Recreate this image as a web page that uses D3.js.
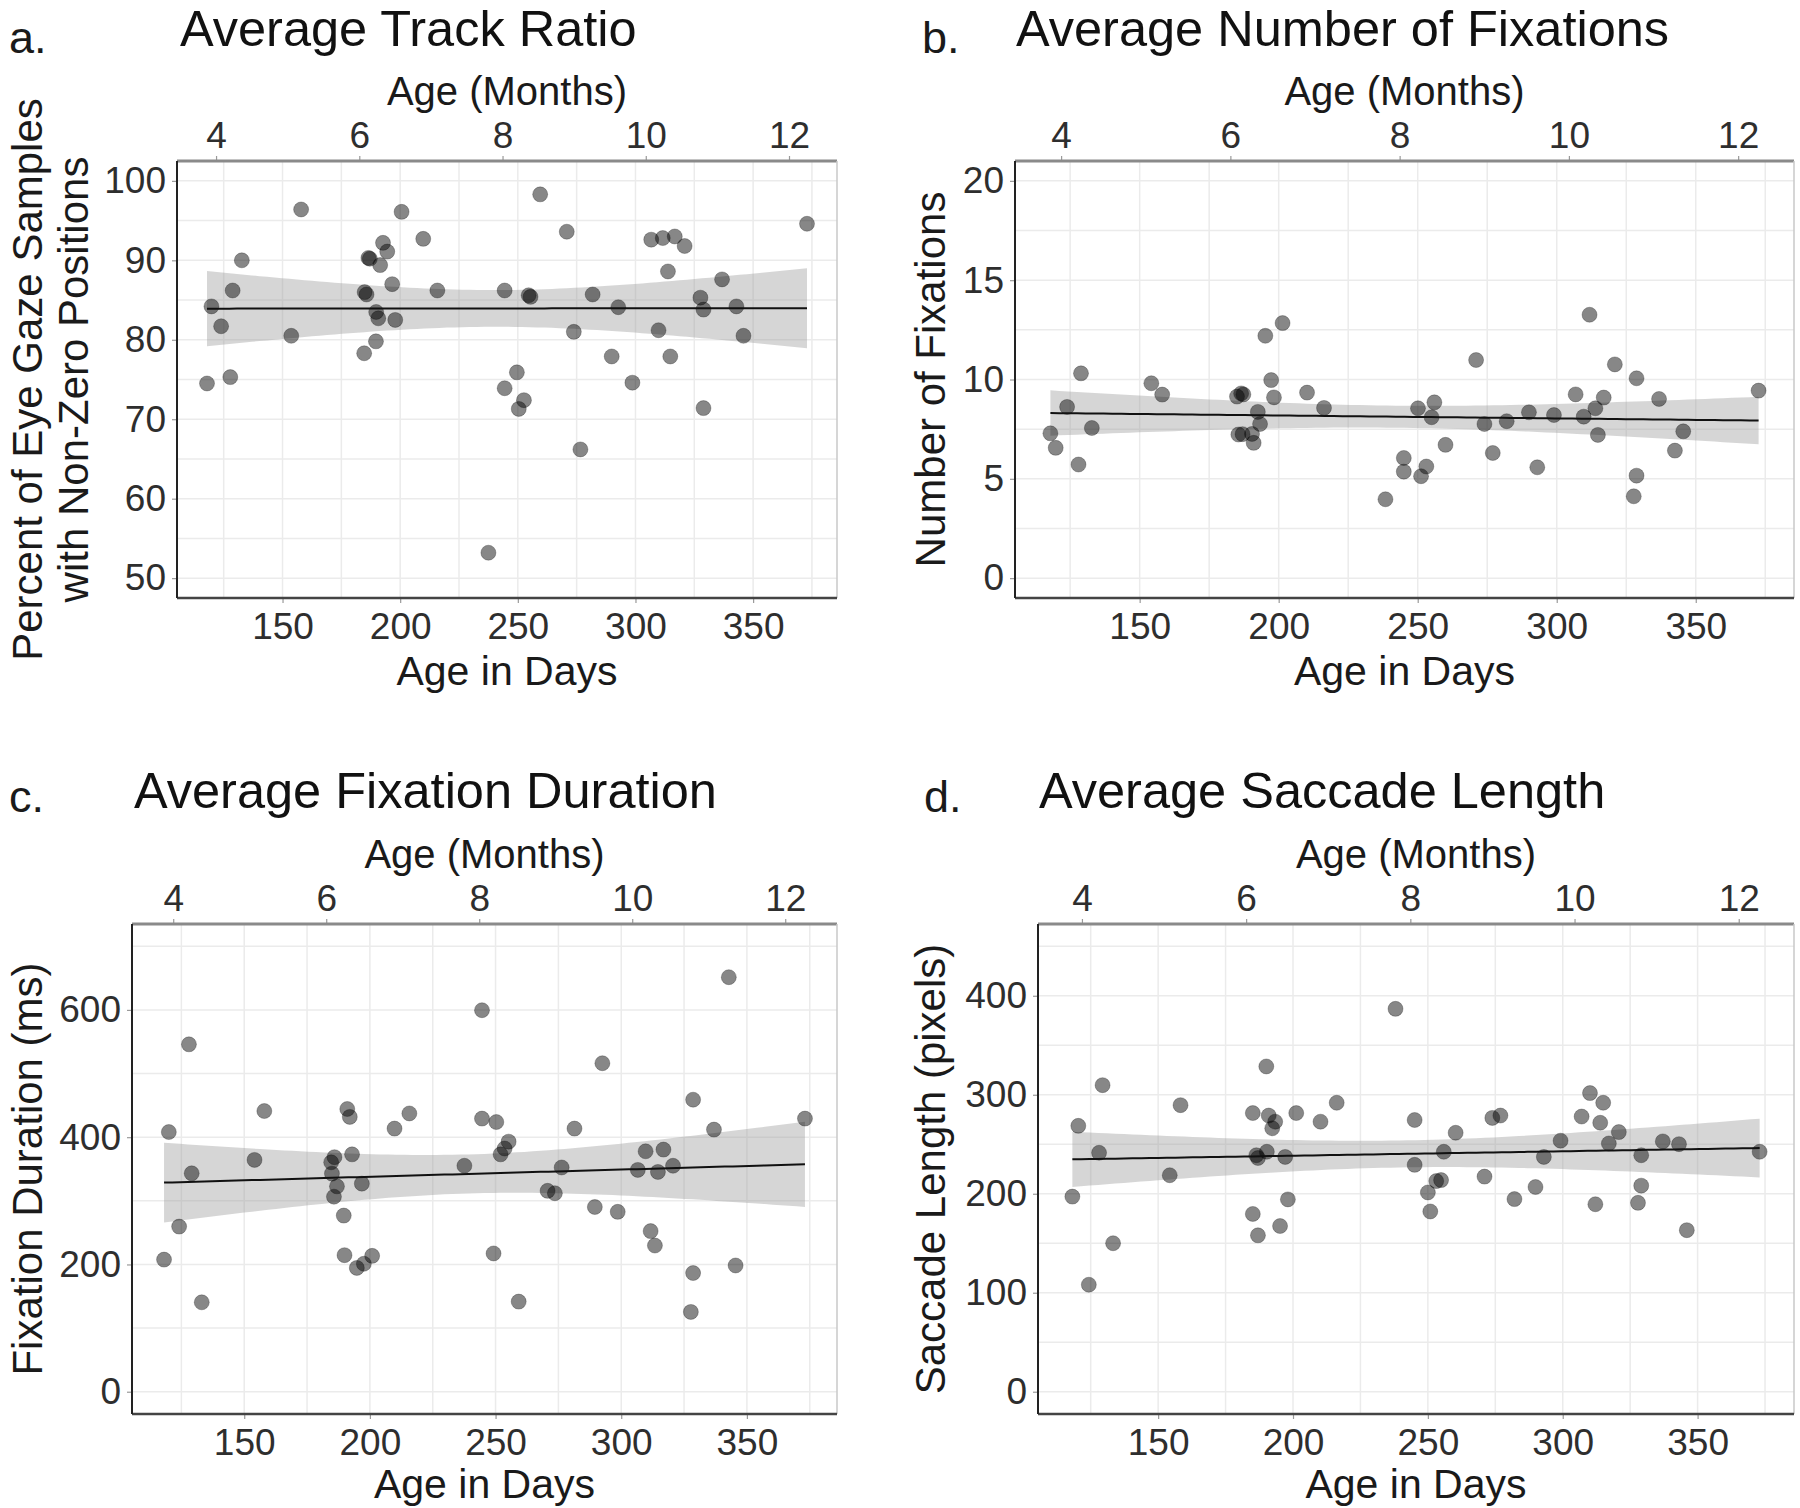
<!DOCTYPE html>
<html><head><meta charset="utf-8">
<script src="https://cdn.jsdelivr.net/npm/d3@7"></script>
<style>
body{margin:0;background:#fff;}
svg{display:block;}
text{font-family:"Liberation Sans",Arial,Helvetica,sans-serif;}
</style>
</head><body>
<svg id="chart" width="1800" height="1508"></svg>
<script>
// ---------- tick labels ----------
const dayTicks = [150, 200, 250, 300, 350];
const dayMinorTicks = [125, 175, 225, 275, 325, 375];
const monthTicks = [4, 6, 8, 10, 12];
const daysPerMonth = 30.4375;

const yTicksA = [50, 60, 70, 80, 90, 100];
const yMinorA = [55, 65, 75, 85, 95];
const yTicksB = [0, 5, 10, 15, 20];
const yMinorB = [2.5, 7.5, 12.5, 17.5];
const yTicksC = [0, 200, 400, 600];
const yMinorC = [100, 300, 500, 700];
const yTicksD = [0, 100, 200, 300, 400];
const yMinorD = [50, 150, 250, 350, 450];

// ---------- a. Average Track Ratio ----------
const ageA = [117.9,119.8,123.9,127.8,128.8,132.7,153.7,157.9,184.7,184.9,185.7,186.5,187.1,189.7,189.8,190.7,191.5,192.7,194.5,196.6,197.9,200.6,209.8,215.8,237.5,244.4,244.4,249.6,250.4,252.6,254.6,255.4,259.5,270.8,273.8,276.6,281.8,289.9,292.7,298.7,306.7,309.8,311.6,313.8,314.8,316.7,320.9,327.6,328.9,328.9,336.8,342.9,345.9,372.9];
const valA = [74.5,84.2,81.7,75.3,86.2,90.0,80.5,96.4,78.3,86.0,85.7,90.3,90.2,79.8,83.5,82.7,89.4,92.2,91.1,87.0,82.5,96.1,92.7,86.2,53.2,86.2,73.9,75.9,71.3,72.4,85.6,85.4,98.3,93.6,81.0,66.2,85.7,77.9,84.1,74.6,92.6,81.2,92.8,88.6,77.9,93.0,91.8,85.3,71.4,83.8,87.6,84.2,80.5,94.6];

// ---------- b. Average Number of Fixations ----------
const ageB = [117.9,119.8,123.9,128.0,128.9,132.8,154.2,158.1,185.0,186.5,187.3,185.5,187.0,190.4,191.0,192.5,193.3,195.2,197.3,198.3,201.4,210.2,216.3,238.4,245.0,245.0,250.1,251.2,253.1,255.0,256.0,260.0,271.0,274.0,277.0,282.0,290.0,293.0,299.0,306.8,309.7,311.8,313.9,314.8,316.9,320.9,327.7,328.7,328.7,336.8,342.5,345.5,372.6];
const valB = [7.29,6.56,8.62,5.72,10.31,7.56,9.81,9.24,9.14,9.30,9.25,7.23,7.25,7.26,6.81,8.37,7.76,12.20,9.97,9.10,12.84,9.34,8.57,3.97,6.05,5.36,8.55,5.13,5.62,8.10,8.85,6.71,10.98,7.76,6.30,7.90,8.35,5.58,8.21,9.25,8.13,13.26,8.55,7.21,9.09,10.76,4.12,5.16,10.06,9.02,6.42,7.39,9.44];

// ---------- c. Average Fixation Duration ----------
const ageC = [118.1,120.0,124.1,128.0,129.1,133.1,154.1,158.0,184.6,184.9,185.9,186.9,185.7,189.6,189.9,191.0,192.0,192.9,194.8,196.8,197.6,200.9,209.8,215.7,237.6,244.6,244.6,249.2,250.3,252.0,253.6,255.2,259.2,270.7,273.6,276.3,281.4,289.5,292.5,298.6,306.6,309.7,311.7,313.4,314.6,316.8,320.6,327.7,328.6,328.6,336.9,342.8,345.5,373.1];
const valC = [207.6,408.1,259.5,545.9,343.2,140.5,364.3,441.1,360.5,342.7,368.6,322.7,306.5,276.8,214.6,444.3,431.9,373.0,194.6,327.0,201.1,213.5,413.5,437.3,355.1,599.5,429.2,217.3,423.8,373.0,382.2,393.0,141.6,315.7,311.9,352.4,413.5,290.3,516.2,282.7,348.6,377.8,252.4,229.7,345.4,380.5,355.1,125.4,458.9,186.5,411.9,651.4,198.4,429.2];

// ---------- d. Average Saccade Length ----------
const ageD = [118.2,120.4,124.3,128.1,129.4,133.3,154.3,158.3,185.1,185.1,187.0,186.4,187.0,190.1,190.3,191.0,192.3,193.4,195.2,197.1,198.1,201.2,210.2,216.2,238.0,245.1,245.1,250.0,250.9,253.1,254.9,255.9,260.3,271.0,273.9,276.9,282.1,289.9,293.0,299.2,307.0,310.1,312.1,313.9,315.0,317.1,320.8,327.9,329.1,329.1,337.1,343.1,346.0,373.0];
const valD = [197.1,268.6,108.1,241.4,309.7,150.0,218.7,289.5,179.6,281.5,158.0,238.9,236.1,328.6,242.4,279.0,266.1,272.8,167.4,237.2,194.3,281.5,272.8,291.9,386.8,274.5,229.2,201.3,182.1,212.8,213.8,242.4,261.6,217.3,276.6,279.0,194.6,206.8,237.2,253.6,278.0,301.7,189.4,271.7,291.9,250.8,262.3,190.8,208.2,238.9,252.9,250.1,163.2,242.4];

// ---------- panel texts & layout ----------
const panels = [
  {tag:"a.", title:"Average Track Ratio", ages:ageA, vals:valA,
   yTitle:["Percent of Eye Gaze Samples","with Non-Zero Positions"],
   yTicks:yTicksA, yMinor:yMinorA, yLim:[50,100],
   box:{l:177,r:837,t:161,b:598}, tagX:9, titleX:180, titleY:46, tagY:53, yTitleX:[27,73]},
  {tag:"b.", title:"Average Number of Fixations", ages:ageB, vals:valB,
   yTitle:["Number of Fixations"],
   yTicks:yTicksB, yMinor:yMinorB, yLim:[0,20],
   box:{l:1015,r:1794,t:161,b:598}, tagX:922, titleX:1016, titleY:46, tagY:53, yTitleX:[930]},
  {tag:"c.", title:"Average Fixation Duration", ages:ageC, vals:valC,
   yTitle:["Fixation Duration (ms)"],
   yTicks:yTicksC, yMinor:yMinorC, yLim:[0,700],
   box:{l:132,r:837,t:924,b:1414}, tagX:9, titleX:134, titleY:808, tagY:812, yTitleX:[27]},
  {tag:"d.", title:"Average Saccade Length", ages:ageD, vals:valD,
   yTitle:["Saccade Length (pixels)"],
   yTicks:yTicksD, yMinor:yMinorD, yLim:[0,450],
   box:{l:1038,r:1794,t:924,b:1414}, tagX:924, titleX:1039, titleY:808, tagY:812, yTitleX:[930]}
];

const svg = d3.select("#chart");
svg.append("rect").attr("width",1800).attr("height",1508).attr("fill","#fff");

function linFit(xs, ys){
  const n = xs.length;
  const xb = d3.mean(xs), yb = d3.mean(ys);
  let sxx=0, sxy=0;
  for(let i=0;i<n;i++){ sxx+=(xs[i]-xb)**2; sxy+=(xs[i]-xb)*(ys[i]-yb); }
  const b = sxy/sxx, a = yb - b*xb;
  let ss=0;
  for(let i=0;i<n;i++){ ss += (ys[i]-(a+b*xs[i]))**2; }
  const s = Math.sqrt(ss/(n-2));
  const t = 2.007;
  return x => { const f=a+b*x; const se=s*Math.sqrt(1/n+(x-xb)**2/sxx); return {x, y:f, lo:f-t*se, hi:f+t*se}; };
}

function expand(lo, hi){ const p=(hi-lo)*0.05; return [lo-p, hi+p]; }

panels.forEach(p => {
  const B = p.box;
  const xExt = d3.extent(p.ages);
  const x = d3.scaleLinear().domain(expand(xExt[0], xExt[1])).range([B.l, B.r]);
  const y = d3.scaleLinear().domain(expand(p.yLim[0], p.yLim[1])).range([B.b, B.t]);
  const g = svg.append("g");

  // grid
  const grid = g.append("g").attr("stroke","#ebebeb").attr("stroke-width",1.5);
  dayTicks.concat(dayMinorTicks).forEach(d => {
    grid.append("line").attr("x1",x(d)).attr("x2",x(d)).attr("y1",B.t).attr("y2",B.b);
  });
  p.yTicks.concat(p.yMinor).forEach(v => {
    grid.append("line").attr("x1",B.l).attr("x2",B.r).attr("y1",y(v)).attr("y2",y(v));
  });

  // regression ribbon
  const f = linFit(p.ages, p.vals);
  const xs = d3.range(0, 81).map(i => xExt[0] + (xExt[1]-xExt[0])*i/80);
  const fitPts = xs.map(f);
  g.append("path").datum(fitPts)
    .attr("d", d3.area().x(d=>x(d.x)).y0(d=>y(d.lo)).y1(d=>y(d.hi)))
    .attr("fill","#999999").attr("fill-opacity",0.4);

  // points
  g.append("g").selectAll("circle").data(p.ages.map((a,i)=>[a,p.vals[i]])).join("circle")
    .attr("cx", d=>x(d[0])).attr("cy", d=>y(d[1])).attr("r",7.5)
    .attr("fill","#000").attr("fill-opacity",0.47)
    .attr("stroke","#000").attr("stroke-opacity",0.25).attr("stroke-width",1);

  // regression line
  g.append("path").datum(fitPts)
    .attr("d", d3.line().x(d=>x(d.x)).y(d=>y(d.y)))
    .attr("fill","none").attr("stroke","#111").attr("stroke-width",2);

  // axes
  const styleAxis = sel => {
    sel.select(".domain").remove();
    sel.selectAll(".tick line").attr("stroke","#9a9a9a").attr("stroke-width",1.2);
    sel.selectAll(".tick text").attr("fill","#2e2e2e").style("font-size","37px");
  };
  g.append("g").attr("transform",`translate(0,${B.b})`)
    .call(d3.axisBottom(x).tickValues(dayTicks).tickFormat(d3.format("d")).tickSize(5).tickPadding(10))
    .call(styleAxis);
  g.append("g").attr("transform",`translate(0,${B.t})`)
    .call(d3.axisTop(x).tickValues(monthTicks.map(m=>m*daysPerMonth)).tickFormat(d=>Math.round(d/daysPerMonth)).tickSize(5).tickPadding(8))
    .call(styleAxis);
  g.append("g").attr("transform",`translate(${B.l},0)`)
    .call(d3.axisLeft(y).tickValues(p.yTicks).tickFormat(d3.format("d")).tickSize(5).tickPadding(6))
    .call(styleAxis);

  // frame lines
  g.append("line").attr("x1",B.l).attr("x2",B.r).attr("y1",B.t).attr("y2",B.t).attr("stroke","#8a8a8a").attr("stroke-width",3);
  g.append("line").attr("x1",B.r).attr("x2",B.r).attr("y1",B.t).attr("y2",B.b).attr("stroke","#c8c8c8").attr("stroke-width",1.5);
  g.append("line").attr("x1",B.l).attr("x2",B.r).attr("y1",B.b).attr("y2",B.b).attr("stroke","#444").attr("stroke-width",2.5);
  g.append("line").attr("x1",B.l).attr("x2",B.l).attr("y1",B.t).attr("y2",B.b).attr("stroke","#222").attr("stroke-width",2);

  // titles
  const cx = (B.l+B.r)/2, cy = (B.t+B.b)/2;
  g.append("text").attr("x",p.tagX).attr("y",p.tagY).text(p.tag).attr("fill","#1a1a1a").style("font-size","45px");
  g.append("text").attr("x",p.titleX).attr("y",p.titleY).text(p.title).attr("fill","#111").style("font-size","50.5px");
  g.append("text").attr("x",cx).attr("y",B.t-56).attr("text-anchor","middle").text("Age (Months)").attr("fill","#1a1a1a").style("font-size","40px");
  g.append("text").attr("x",cx).attr("y",Math.min(B.b+87,1498)).attr("text-anchor","middle").text("Age in Days").attr("fill","#1a1a1a").style("font-size","41px");
  p.yTitle.forEach((t,i) => {
    g.append("text").attr("transform",`translate(${p.yTitleX[i]},${cy}) rotate(-90)`)
      .attr("text-anchor","middle").attr("dominant-baseline","central")
      .text(t).attr("fill","#1a1a1a").style("font-size","42px");
  });
});
</script>
</body></html>
